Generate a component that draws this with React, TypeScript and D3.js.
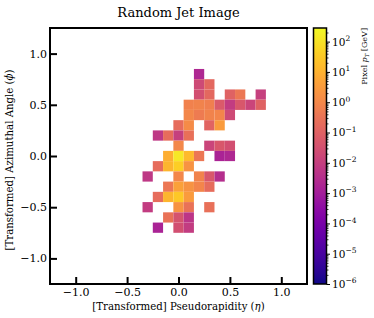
import { useEffect, useRef } from "react";
import * as d3 from "d3";

// jet image pixels, one row per phi value
const phiRows = [0.8, 0.7, 0.6, 0.5, 0.4, 0.3, 0.2, 0.1, 0.0, -0.1, -0.2, -0.3, -0.4, -0.5, -0.6, -0.7];
const etaByRow = [
  [0.2],
  [0.2, 0.3],
  [0.2, 0.3, 0.5, 0.6, 0.8],
  [0.1, 0.2, 0.3, 0.4, 0.5, 0.6, 0.7, 0.8],
  [0.1, 0.2, 0.3, 0.4, 0.5],
  [0.0, 0.1, 0.3, 0.4],
  [-0.2, -0.1, 0.0, 0.1],
  [0.0, 0.3, 0.4, 0.5],
  [-0.1, 0.0, 0.1, 0.2, 0.4, 0.5],
  [-0.2, -0.1, 0.0, 0.1],
  [-0.3, 0.0, 0.2, 0.3, 0.4],
  [-0.1, 0.0, 0.1, 0.2, 0.3],
  [-0.2, -0.1, 0.0, 0.1],
  [-0.3, 0.0, 0.1, 0.3],
  [-0.1, 0.0, 0.1],
  [-0.2, 0.0, 0.1],
];
const ptByRow = [
  [0.002],
  [0.02, 0.15],
  [0.03, 0.15, 0.1, 0.4, 0.01],
  [0.7, 0.8, 0.6, 0.06, 0.008, 0.05, 0.015, 0.1],
  [1.0, 0.5, 0.8, 0.9, 0.02],
  [0.2, 1.2, 0.12, 3],
  [0.006, 0.2, 0.01, 0.25],
  [1.0, 0.015, 0.05, 0.03],
  [8, 130, 15, 0.4, 0.0015, 0.002],
  [0.2, 12, 40, 2],
  [0.006, 1, 0.8, 0.05, 0.003],
  [0.4, 4, 2, 0.9, 0.2],
  [0.2, 12, 30, 3],
  [0.008, 2, 0.3, 0.25],
  [0.3, 0.04, 0.005],
  [0.0015, 0.03, 0.008],
];
const axisTicks = [-1.0, -0.5, 0.0, 0.5, 1.0];
const colorTicks = [1e-6, 1e-5, 1e-4, 1e-3, 1e-2, 1e-1, 1e0, 1e1, 1e2];

const W = 374;
const H = 318;
const font = "DejaVu Serif";

const App = () => {
  const svgRef = useRef(null);

  useEffect(() => {
    const svg = d3.select(svgRef.current);
    svg.selectAll("*").remove();

    const margin = { top: 28, left: 50, right: 307, bottom: 284 };
    const x = d3.scaleLinear().domain([-1.25, 1.25]).range([margin.left, margin.right]);
    const y = d3.scaleLinear().domain([-1.25, 1.25]).range([margin.bottom, margin.top]);
    const color = d3
      .scaleSequentialLog(d3.interpolatePlasma)
      .domain([1e-6, Math.pow(10, 2.45)]);

    const cells = [];
    phiRows.forEach((phi, i) => {
      etaByRow[i].forEach((eta, j) => cells.push({ eta, phi, pt: ptByRow[i][j] }));
    });

    const half = 0.05;
    svg
      .append("g")
      .selectAll("rect")
      .data(cells)
      .join("rect")
      .attr("x", (d) => x(d.eta - half))
      .attr("y", (d) => y(d.phi + half))
      .attr("width", (d) => x(d.eta + half) - x(d.eta - half))
      .attr("height", (d) => y(d.phi - half) - y(d.phi + half))
      .attr("fill", (d) => color(d.pt));

    const styleAxis = (g) => {
      g.select(".domain").remove();
      g.selectAll(".tick line").attr("stroke", "#000").attr("stroke-width", 2);
      g.selectAll(".tick text")
        .attr("font-family", font)
        .attr("font-size", 11)
        .attr("fill", "#000");
    };

    svg
      .append("g")
      .attr("transform", `translate(0,${margin.bottom})`)
      .call(
        d3
          .axisBottom(x)
          .tickValues(axisTicks)
          .tickSizeInner(-7)
          .tickSizeOuter(0)
          .tickPadding(4)
          .tickFormat(d3.format(".1f"))
      )
      .call(styleAxis);

    svg
      .append("g")
      .attr("transform", `translate(${margin.left},0)`)
      .call(
        d3
          .axisLeft(y)
          .tickValues(axisTicks)
          .tickSizeInner(-7)
          .tickSizeOuter(0)
          .tickPadding(3)
          .tickFormat(d3.format(".1f"))
      )
      .call(styleAxis);

    svg
      .append("rect")
      .attr("x", margin.left)
      .attr("y", margin.top)
      .attr("width", margin.right - margin.left)
      .attr("height", margin.bottom - margin.top)
      .attr("fill", "none")
      .attr("stroke", "#000")
      .attr("stroke-width", 2);

    // title and axis labels
    svg
      .append("text")
      .attr("x", (margin.left + margin.right) / 2)
      .attr("y", 17)
      .attr("text-anchor", "middle")
      .attr("font-family", font)
      .attr("font-size", 13)
      .text("Random Jet Image");

    const xl = svg
      .append("text")
      .attr("x", (margin.left + margin.right) / 2)
      .attr("y", 310)
      .attr("text-anchor", "middle")
      .attr("font-family", font)
      .attr("font-size", 10.2);
    xl.append("tspan").text("[Transformed] Pseudorapidity (");
    xl.append("tspan").attr("font-style", "italic").text("η");
    xl.append("tspan").text(")");

    const yl = svg
      .append("text")
      .attr("transform", `translate(13,${(margin.top + margin.bottom) / 2 + 4}) rotate(-90)`)
      .attr("text-anchor", "middle")
      .attr("font-family", font)
      .attr("font-size", 10.2);
    yl.append("tspan").text("[Transformed] Azimuthal Angle (");
    yl.append("tspan").attr("font-style", "italic").text("ϕ");
    yl.append("tspan").text(")");

    // colorbar
    const cb = { x0: 313.5, x1: 326.5 };
    const cy = d3.scaleLog().domain(color.domain()).range([margin.bottom, margin.top]);
    const grad = svg
      .append("defs")
      .append("linearGradient")
      .attr("id", "cbar")
      .attr("x1", 0)
      .attr("y1", 1)
      .attr("x2", 0)
      .attr("y2", 0);
    d3.range(0, 1.0001, 0.02).forEach((t) => {
      grad
        .append("stop")
        .attr("offset", t)
        .attr("stop-color", d3.interpolatePlasma(t));
    });
    svg
      .append("rect")
      .attr("x", cb.x0)
      .attr("y", margin.top)
      .attr("width", cb.x1 - cb.x0)
      .attr("height", margin.bottom - margin.top)
      .attr("fill", "url(#cbar)")
      .attr("stroke", "#000")
      .attr("stroke-width", 1.5);

    const minor = [];
    colorTicks.forEach((d) => {
      for (let k = 2; k <= 9; k++) {
        const v = d * k;
        if (v < cy.domain()[1]) minor.push(v);
      }
    });
    svg
      .append("g")
      .attr("transform", `translate(${cb.x1},0)`)
      .call(d3.axisRight(cy).tickValues(minor).tickSize(2).tickFormat(() => ""))
      .call((g) => g.select(".domain").remove())
      .call((g) => g.selectAll(".tick line").attr("stroke-width", 0.8));

    const cAxis = svg
      .append("g")
      .attr("transform", `translate(${cb.x1},0)`)
      .call(d3.axisRight(cy).tickValues(colorTicks).tickSize(3.5).tickPadding(2).tickFormat(() => ""));
    cAxis.select(".domain").remove();
    cAxis.selectAll(".tick line").attr("stroke-width", 1);
    cAxis.selectAll(".tick text").each(function (d) {
      const t = d3.select(this).attr("font-family", font).attr("font-size", 10.5).attr("fill", "#000");
      const e = Math.round(Math.log10(d));
      t.append("tspan").text("10");
      t.append("tspan")
        .attr("font-size", 7.5)
        .attr("dy", -4.5)
        .text(e < 0 ? `−${-e}` : `${e}`);
    });

    const lbl = svg
      .append("text")
      .attr("transform", `translate(367,${margin.top}) rotate(-90)`)
      .attr("text-anchor", "end")
      .attr("font-family", font)
      .attr("font-size", 8);
    lbl.append("tspan").text("Pixel ");
    lbl.append("tspan").attr("font-style", "italic").text("p");
    lbl.append("tspan").attr("font-size", 5.5).attr("dy", 2).attr("font-style", "italic").text("T");
    lbl.append("tspan").attr("dy", -2).text(" [GeV]");
  }, []);

  return (
    <div style={{ position: "absolute", left: 0, top: 0 }}>
      <svg ref={svgRef} width={W} height={H} style={{ display: "block", background: "#fff" }} />
    </div>
  );
};

export default App;
